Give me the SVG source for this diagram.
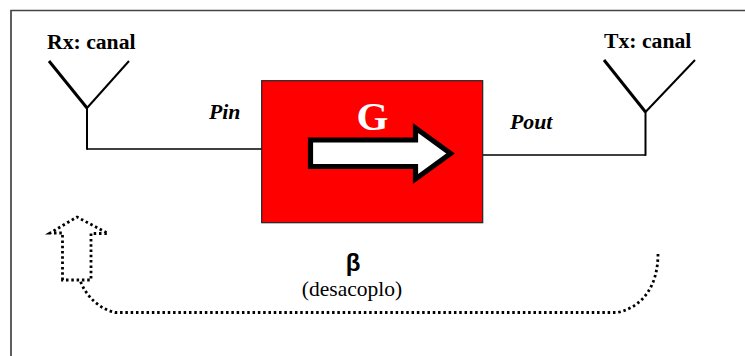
<svg xmlns="http://www.w3.org/2000/svg" width="745" height="356" viewBox="0 0 745 356">
<style>
text{font-family:"Liberation Serif","Times New Roman",serif;fill:#000}
.b{font-weight:bold;font-size:21.7px}
.i{font-weight:bold;font-style:italic;font-size:21.8px}
.w{fill:none;stroke:#000;stroke-linecap:butt}
.d{fill:none;stroke:#000;stroke-width:2.8;stroke-dasharray:2.5 2.8}
</style>
<rect width="745" height="356" fill="#fff"/>
<path id="frame" d="M745 10.500H11V356" fill="none" stroke="#444" stroke-width="1.700"/>
<g id="connectors">
<path class="w" stroke-width="1.500" d="M87 149H262"/>
<path class="w" stroke-width="2" d="M87 108V149.700"/>
<path class="w" stroke-width="1.500" d="M483 155H646"/>
<path class="w" stroke-width="2" d="M645.500 112V155.700"/>
<path class="d" d="M658 254C658 283 645 306 618 312.500H115C100 309 86 297 80 280"/>
</g>
<g id="rx">
<path class="w" stroke-width="3" d="M49 61L87 108"/>
<path class="w" stroke-width="2" d="M129 61L87 108"/>
<text class="b" x="47" y="49">Rx: canal</text>
<text class="i" x="209" y="119">Pin</text>
</g>
<g id="tx">
<path class="w" stroke-width="3" d="M604 60L645.500 112"/>
<path class="w" stroke-width="2" d="M695 60L645.500 112"/>
<text class="b" x="604" y="48">Tx: canal</text>
<text class="i" x="510" y="129">Pout</text>
</g>
<g id="amp">
<rect x="261.700" y="80.700" width="221" height="142" fill="#f00" stroke="#222" stroke-width="1.200"/>
<text x="372.500" y="130" text-anchor="middle" style="font-size:41px;font-weight:bold;fill:#fff">G</text>
<path d="M310.500 140H415.500V128L450.500 153.500L415.500 179V166.500H310.500Z" fill="#fff" stroke="#000" stroke-width="5.200"/>
</g>
<g id="feedback">
<path class="d" d="M62.500 280V233H50L77 217L108 233.500H91V280Z"/>
<text x="353" y="271" text-anchor="middle" style="font-family:'Liberation Sans',sans-serif;font-size:24px;font-weight:bold">β</text>
<text x="352" y="296" text-anchor="middle" style="font-size:21.500px">(desacoplo)</text>
</g>
</svg>
